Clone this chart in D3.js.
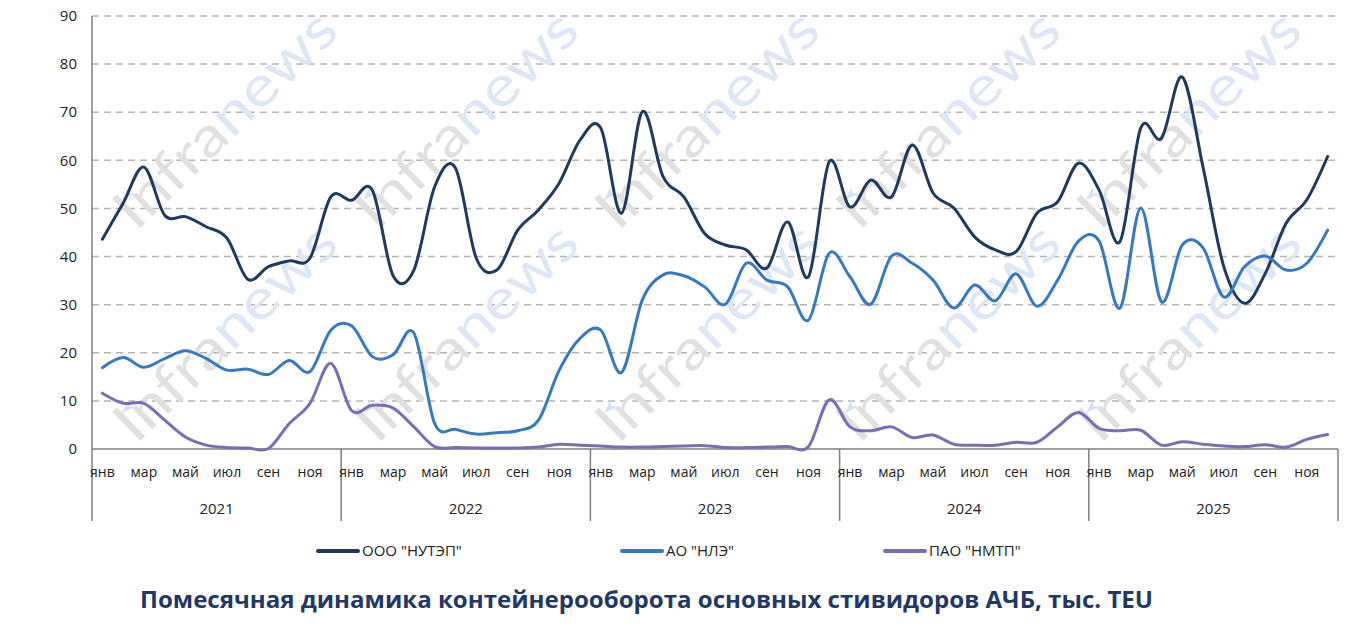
<!DOCTYPE html>
<html><head><meta charset="utf-8">
<script src="https://cdn.jsdelivr.net/npm/d3@7/dist/d3.min.js"></script>
<style>body{margin:0;background:#fff}svg{display:block}</style>
</head><body>
<svg id="c" width="1366" height="627"></svg>
<script>
const years = ["2021","2022","2023","2024","2025"];
const monthNames = ["янв","фев","мар","апр","май","июн","июл","авг","сен","окт","ноя","дек"];
const shownMonths = ["янв","мар","май","июл","сен","ноя"];
const yTicks = [0,10,20,30,40,50,60,70,80,90];
const seriesNames = ['ООО "НУТЭП"','АО "НЛЭ"','ПАО "НМТП"'];
const nutep = [43.6,51.1,58.6,48.6,48.3,46.2,43.8,35.3,37.9,39.1,39.7,52.4,
               51.7,53.8,36.0,37.2,54.5,58.4,39.7,37.2,45.5,49.7,55.3,64.2,
               66.7,49.0,70.1,56.6,52.4,44.8,42.4,41.4,37.6,47.2,35.8,59.7,
               50.3,55.9,52.4,63.2,53.2,50.1,44.1,41.4,41.0,49.0,51.4,59.4,
               53.8,43.1,66.7,64.6,77.3,58.6,37.9,30.3,36.5,46.9,51.8,60.8];
const nle   = [16.9,19.0,17.0,18.8,20.4,18.8,16.4,16.6,15.5,18.4,16.1,24.7,
               25.6,19.2,19.6,24.1,5.3,4.1,3.1,3.4,3.8,6.0,16.4,23.0,
               24.7,15.9,31.0,36.2,36.0,33.7,30.1,38.6,35.1,33.7,26.8,40.7,
               35.8,30.1,40.1,38.6,35.1,29.3,34.1,30.8,36.4,29.7,35.1,43.2,
               43.2,29.3,50.1,30.6,42.4,41.8,31.6,37.9,40.1,37.2,38.6,45.5];
const nmtp  = [11.6,9.5,9.5,6.0,2.5,0.8,0.3,0.2,0.1,5.3,9.5,17.8,
               8.0,9.1,8.5,4.6,0.5,0.3,0.2,0.2,0.2,0.4,1.0,0.8,
               0.6,0.4,0.4,0.5,0.6,0.7,0.3,0.3,0.4,0.5,0.5,10.2,
               4.6,3.8,4.6,2.4,2.9,1.0,0.8,0.8,1.4,1.4,4.6,7.6,
               4.3,3.8,3.9,0.8,1.5,1.0,0.6,0.5,0.9,0.4,2.0,3.0];
const colors = ["#1f3a5d","#3579c1","#7a6db5"];

const cats = [];
years.forEach(y => monthNames.forEach(m => cats.push({year:y, month:m, key:y+"-"+m})));
const seriesData = [nutep, nle, nmtp];

const svg = d3.select("#c");
const L=92, R=1338, T=16, B=449;
const x = d3.scaleBand().domain(cats.map(d=>d.key)).range([L,R]).padding(0);
const y = d3.scaleLinear().domain([0,90]).range([B,T]);
const cx = k => x(k) + x.bandwidth()/2;

// gridlines
svg.append("g").selectAll("line").data(yTicks.filter(t=>t>0)).join("line")
  .attr("x1",L).attr("x2",R).attr("y1",d=>y(d)).attr("y2",d=>y(d))
  .attr("stroke","#b4b4b4").attr("stroke-width",1.5).attr("stroke-dasharray","7,5");

// watermarks
const wm = svg.append("g").attr("pointer-events","none");
const wx = [136,377,618,859,1100], wy=[232,445];
wy.forEach(yy => wx.forEach(xx => {
  const t = wm.append("text").attr("transform",`translate(${xx},${yy}) rotate(-44)`)
    .attr("font-family","Lato, sans-serif").attr("font-size",56).attr("font-weight",400)
    .attr("textLength",285).attr("lengthAdjust","spacingAndGlyphs");
  t.append("tspan").attr("fill","#e0e0e0").text("Infra");
  t.append("tspan").attr("fill","#dce6f4").text("news");
  wm.append("path").attr("transform",`translate(${xx-14},${yy-32}) rotate(-44)`)
    .attr("d","M0,0 L14,-5 L10,0 L14,5 Z").attr("fill","#d6e2f3");
}));

// y axis
svg.append("line").attr("x1",L).attr("x2",L).attr("y1",T).attr("y2",B).attr("stroke","#7f7f7f").attr("stroke-width",1.5);
svg.append("g").selectAll("text").data(yTicks).join("text")
  .attr("x",77).attr("y",d=>y(d)).attr("dy","0.35em").attr("text-anchor","end")
  .attr("font-family","Open Sans, sans-serif").attr("font-size",15).attr("fill","#222").text(d=>d);

// x axis
svg.append("line").attr("x1",L).attr("x2",R).attr("y1",B).attr("y2",B).attr("stroke","#7f7f7f").attr("stroke-width",1.5);
const yearStarts = years.map(yr => x(yr+"-янв"));
yearStarts.concat([R]).forEach(xx => svg.append("line").attr("x1",xx).attr("x2",xx).attr("y1",B).attr("y2",521).attr("stroke","#7f7f7f").attr("stroke-width",1.5));
svg.append("g").selectAll("text").data(cats.filter(d=>shownMonths.includes(d.month))).join("text")
  .attr("x",d=>cx(d.key)).attr("y",477).attr("text-anchor","middle")
  .attr("font-family","Open Sans, sans-serif").attr("font-size",14).attr("fill","#222").text(d=>d.month);
svg.append("g").selectAll("text").data(years).join("text")
  .attr("x",(d,i)=> (yearStarts[i] + (i<4?yearStarts[i+1]:R))/2).attr("y",514).attr("text-anchor","middle")
  .attr("font-family","Open Sans, sans-serif").attr("font-size",15).attr("fill","#222").text(d=>d);

// lines
const line = d3.line().x((d,i)=>cx(cats[i].key)).y(d=>y(d)).curve(d3.curveCatmullRom.alpha(0));
seriesData.forEach((s,i)=>{
  svg.append("path").datum(s).attr("d",line).attr("fill","none")
    .attr("stroke",colors[i]).attr("stroke-width",3).attr("stroke-linejoin","round").attr("stroke-linecap","round");
});

// legend
const legX = [318,622,885];
seriesNames.forEach((n,i)=>{
  svg.append("line").attr("x1",legX[i]).attr("x2",legX[i]+40).attr("y1",551).attr("y2",551)
    .attr("stroke",colors[i]).attr("stroke-width",4).attr("stroke-linecap","round");
  svg.append("text").attr("x",legX[i]+44).attr("y",551).attr("dy","0.35em")
    .attr("font-family","Open Sans, sans-serif").attr("font-size",15).attr("fill","#222").text(n);
});

// title
svg.append("text").attr("x",140).attr("y",600).attr("dy","0.35em")
  .attr("font-family","Open Sans, sans-serif").attr("font-weight",700).attr("font-size",23).attr("fill","#1f3864")
  .attr("textLength",1013).attr("lengthAdjust","spacingAndGlyphs")
  .text("Помесячная динамика контейнерооборота основных стивидоров АЧБ, тыс. TEU");
</script>
</body></html>
